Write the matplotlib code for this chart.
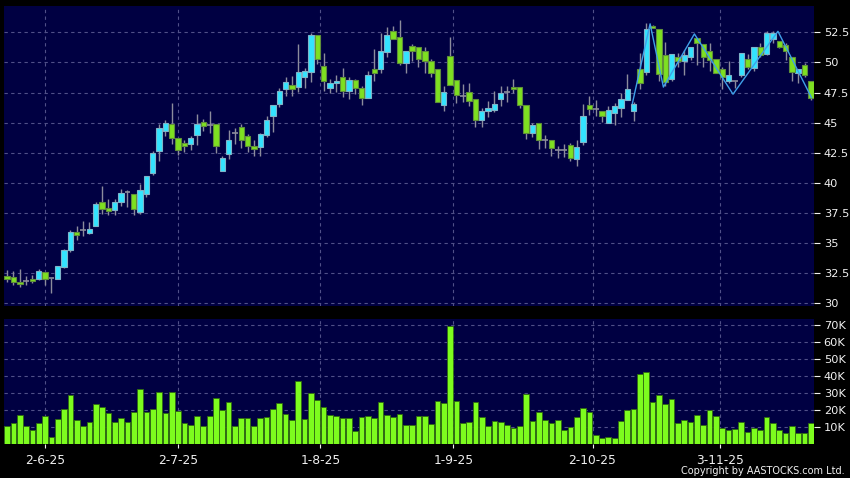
import matplotlib
matplotlib.use('Agg')
import matplotlib.pyplot as plt
import numpy as np

# daily OHLC (one candle per trading day, oldest first)
opens = [32.28, 32.22, 31.78, 31.83, 32.06, 32.03, 32.61, 32.10, 32.00, 33.00,
         34.39, 35.94, 36.06, 35.83, 36.39, 38.39, 37.94, 37.78, 38.39, 39.28,
         39.11, 37.56, 39.08, 40.81, 42.64, 44.31, 44.92, 43.75, 43.31, 43.25,
         43.97, 45.03, 44.80, 44.92, 40.97, 42.36, 44.17, 44.64, 43.86, 43.08,
         42.97, 43.97, 45.58, 46.58, 47.75, 48.14, 47.92, 48.81, 49.19, 52.25,
         49.69, 47.86, 48.25, 48.75, 47.64, 48.53, 47.86, 47.08, 49.47, 49.42,
         50.86, 52.58, 52.08, 49.97, 51.36, 51.25, 50.97, 50.08, 49.47, 46.47,
         50.53, 48.53, 47.20, 47.58, 46.92, 45.19, 45.97, 46.03, 46.97, 47.58,
         47.97, 47.97, 46.47, 44.14, 44.97, 43.53, 43.58, 42.75, 42.70, 43.14,
         42.00, 43.42, 46.47, 46.14, 45.97, 44.97, 45.81, 46.25, 46.86, 45.97,
         49.47, 49.19, 53.03, 52.75, 50.58, 48.64, 50.47, 50.14, 50.47, 52.03,
         51.53, 50.92, 50.25, 49.42, 48.47, 48.42, 48.97, 50.31, 49.53, 51.25,
         50.69, 51.97, 51.81, 51.42, 50.42, 49.14, 49.75, 48.42]
highs = [32.78, 32.67, 32.83, 32.30, 32.39, 32.83, 32.61, 32.10, 33.10, 34.50,
         36.06, 36.44, 36.83, 36.72, 38.39, 39.78, 38.67, 38.67, 39.50, 39.40,
         39.11, 39.92, 40.58, 42.64, 44.92, 45.25, 46.64, 43.75, 43.53, 43.92,
         45.69, 45.30, 45.97, 44.92, 42.25, 44.42, 44.58, 44.92, 44.03, 43.58,
         44.14, 45.53, 46.47, 47.86, 48.80, 48.86, 51.53, 49.53, 52.47, 52.25,
         50.80, 48.64, 48.92, 49.53, 48.75, 48.64, 48.08, 49.25, 51.08, 52.42,
         52.97, 53.03, 53.53, 50.97, 51.53, 51.25, 51.25, 50.25, 49.47, 48.08,
         52.08, 48.53, 48.20, 48.25, 46.97, 46.25, 46.80, 47.64, 48.08, 48.08,
         48.58, 47.97, 46.47, 44.97, 44.97, 43.97, 43.58, 43.03, 43.25, 43.31,
         43.53, 46.53, 47.20, 46.86, 45.97, 46.40, 46.64, 47.42, 49.03, 46.70,
         50.80, 53.25, 53.14, 52.75, 51.69, 50.69, 50.80, 51.03, 51.25, 52.03,
         51.53, 51.58, 50.25, 49.64, 50.08, 48.42, 50.75, 50.69, 51.31, 51.58,
         52.58, 52.58, 51.81, 51.58, 50.42, 49.42, 49.92, 48.42]
lows = [31.75, 31.53, 31.33, 31.53, 31.67, 31.97, 31.56, 30.83, 32.00, 32.95,
        34.25, 35.28, 35.61, 35.72, 36.39, 37.44, 37.33, 37.33, 38.10, 38.00,
        37.33, 37.42, 38.86, 40.64, 41.80, 43.92, 43.25, 42.30, 42.53, 42.75,
        43.14, 44.30, 44.14, 42.47, 40.97, 41.97, 43.25, 42.92, 42.53, 42.19,
        42.19, 43.80, 44.25, 46.30, 47.20, 47.25, 47.53, 47.86, 48.36, 49.86,
        47.64, 47.47, 47.53, 47.14, 46.97, 47.36, 46.47, 47.08, 48.42, 49.14,
        50.47, 51.92, 49.80, 49.08, 50.08, 49.58, 49.08, 48.80, 46.75, 45.97,
        48.14, 46.64, 46.70, 46.42, 44.64, 44.64, 45.47, 45.90, 46.42, 46.69,
        47.47, 46.25, 43.64, 43.80, 42.80, 42.86, 42.25, 42.08, 42.15, 41.80,
        41.42, 43.14, 45.64, 45.53, 45.03, 44.97, 44.80, 45.47, 46.86, 45.14,
        47.80, 48.97, 52.86, 48.47, 48.03, 48.47, 49.60, 48.97, 50.20, 49.75,
        49.64, 49.31, 49.08, 47.80, 48.25, 47.90, 48.80, 49.47, 49.25, 50.47,
        50.64, 51.60, 51.20, 50.19, 48.42, 48.25, 48.80, 46.86]
closes = [32.00, 31.78, 31.61, 31.83, 31.89, 32.72, 32.03, 32.10, 33.06, 34.44,
          35.94, 35.67, 36.06, 36.17, 38.22, 37.83, 37.67, 38.39, 39.17, 39.28,
          37.83, 39.42, 40.58, 42.47, 44.53, 45.00, 43.75, 42.75, 43.08, 43.75,
          44.92, 44.75, 44.80, 43.08, 42.03, 43.58, 44.17, 43.58, 43.08, 42.80,
          44.03, 45.19, 46.47, 47.64, 48.36, 47.80, 49.19, 49.25, 52.31, 50.31,
          48.42, 48.25, 48.42, 47.64, 48.53, 47.86, 47.08, 48.92, 49.14, 50.92,
          52.31, 51.92, 49.97, 50.97, 50.92, 50.25, 50.08, 49.14, 46.75, 47.53,
          48.14, 47.31, 47.20, 46.80, 45.19, 45.97, 46.25, 46.58, 47.47, 47.58,
          47.80, 46.47, 44.14, 44.81, 43.58, 43.53, 42.86, 42.75, 42.70, 42.08,
          42.97, 45.58, 46.14, 46.14, 45.58, 46.08, 46.36, 46.97, 47.75, 46.58,
          48.25, 52.75, 52.86, 49.03, 48.36, 50.69, 50.14, 50.58, 51.25, 51.58,
          50.47, 50.19, 49.14, 48.75, 48.92, 48.42, 50.75, 49.58, 51.31, 50.58,
          52.47, 52.47, 51.31, 50.92, 49.19, 49.42, 48.92, 47.08]

# volume in thousands
volume_k = [10.7, 12.3, 17, 10.7, 8.4, 12.3, 16.2, 4.1, 14.6, 20.7,
            28.9, 14.3, 10.7, 13.1, 23.6, 22, 18.2, 12.9, 15, 13.1,
            19.1, 32.2, 19.1, 20.7, 30.5, 18, 30.5, 19.5, 12.3, 11.3,
            16.6, 10.7, 16.2, 26.8, 20.1, 24.8, 10.4, 15.2, 15.2, 10.5,
            15.2, 15.6, 20.7, 24, 17.4, 14.3, 36.9, 14.6, 30.1, 25.6,
            21.7, 16.8, 16.6, 15.4, 15, 7.4, 15.6, 16.2, 15.4, 24.8,
            17, 15.6, 17.4, 11, 11.1, 16.2, 16.6, 11.5, 25, 24.2,
            69.4, 25.5, 12.5, 13.1, 24.6, 16, 10.5, 13.6, 13.1, 10.9,
            9.4, 10.5, 29.6, 13.3, 19.1, 14.4, 12.1, 14.4, 8.4, 10.1,
            15.6, 21.4, 18.7, 5.1, 3.5, 3.9, 3.7, 13.6, 19.9, 20.5,
            41, 42.3, 24.8, 28.9, 23.6, 26.4, 12.1, 14.3, 13.1, 16.8,
            11.3, 19.7, 16.2, 9.4, 8.4, 9.0, 13.1, 7.2, 9.6, 8.4,
            15.8, 12.1, 8.4, 6.4, 10.7, 6.4, 6.4, 12.1]

date_labels = ['2-6-25', '2-7-25', '1-8-25', '1-9-25', '2-10-25', '3-11-25']
date_pos = [6, 27, 49.5, 70.5, 92.5, 112.7]

# zigzag overlay (bar index, price)
zig_x = [98.8, 101.6, 103.7, 108.6, 114.7, 121.8, 127.1]
zig_y = [46.6, 53.2, 47.95, 52.36, 47.36, 52.58, 47.08]

price_ticks = [30, 32.5, 35, 37.5, 40, 42.5, 45, 47.5, 50, 52.5]
vol_ticks = [10, 20, 30, 40, 50, 60, 70]

navy = '#000042'
grid_c = '#505088'
up_c = '#33e3ff'
up_edge = '#7fb3c8'
dn_c = '#7ee021'
dn_edge = '#5f8f3a'
wick_c = '#8c8c9c'
txt_c = '#f0f0f0'

fig = plt.figure(figsize=(8.5, 4.78), dpi=100, facecolor='black')
ax = fig.add_axes([4/850, 1-306/478, 810/850, 300/478])
axv = fig.add_axes([4/850, 1-444/478, 810/850, 125/478])

o = np.array(opens); h = np.array(highs); l = np.array(lows); c = np.array(closes)
x = np.arange(len(o))

for a in (ax, axv):
    a.set_facecolor(navy)
    for s in a.spines.values():
        s.set_visible(False)
    a.set_xlim(-0.5, len(o) - 0.5)
    a.yaxis.tick_right()
    a.tick_params(axis='y', colors=txt_c, labelsize=8.2, length=4, pad=3, width=0.8)
    a.set_xticks(date_pos)
    a.grid(True, color=grid_c, linestyle=(0, (3, 3)), linewidth=0.8)
    a.set_axisbelow(True)

# candles
ax.vlines(x, l, h, color=wick_c, linewidth=1)
up = c > o
dn = c < o
flat = c == o
ax.bar(x[up], (c - o)[up], bottom=o[up], width=0.85, color=up_c, edgecolor=up_edge, linewidth=0.8, zorder=3)
ax.bar(x[dn], (o - c)[dn], bottom=c[dn], width=0.85, color=dn_c, edgecolor=dn_edge, linewidth=0.8, zorder=3)
ax.hlines(c[flat], x[flat] - 0.45, x[flat] + 0.45, color=wick_c, linewidth=1.2, zorder=3)
ax.plot(zig_x, zig_y, color='#3fa0e8', linewidth=1, zorder=4)

ax.set_ylim(29.78, 54.68)
ax.set_yticks(price_ticks)
ax.set_yticklabels(['%g' % t for t in price_ticks])
ax.tick_params(axis='x', length=0, labelbottom=False)

# volume
axv.bar(x, volume_k, width=0.9, color='#7dfc1e', edgecolor='#2f6a10', linewidth=0.6, zorder=3)
axv.set_ylim(0, 73.5)
axv.set_yticks(vol_ticks)
axv.set_yticklabels(['%dK' % t for t in vol_ticks])
axv.set_xticklabels(date_labels)
axv.tick_params(axis='x', colors=txt_c, labelsize=8.8, length=3, pad=4, width=0.8)

fig.text(845/850, 1 - 471/478, 'Copyright by AASTOCKS.com Ltd.', color=txt_c,
         fontsize=7, ha='right', va='center')

plt.savefig('out.png', dpi=100, facecolor='black')
